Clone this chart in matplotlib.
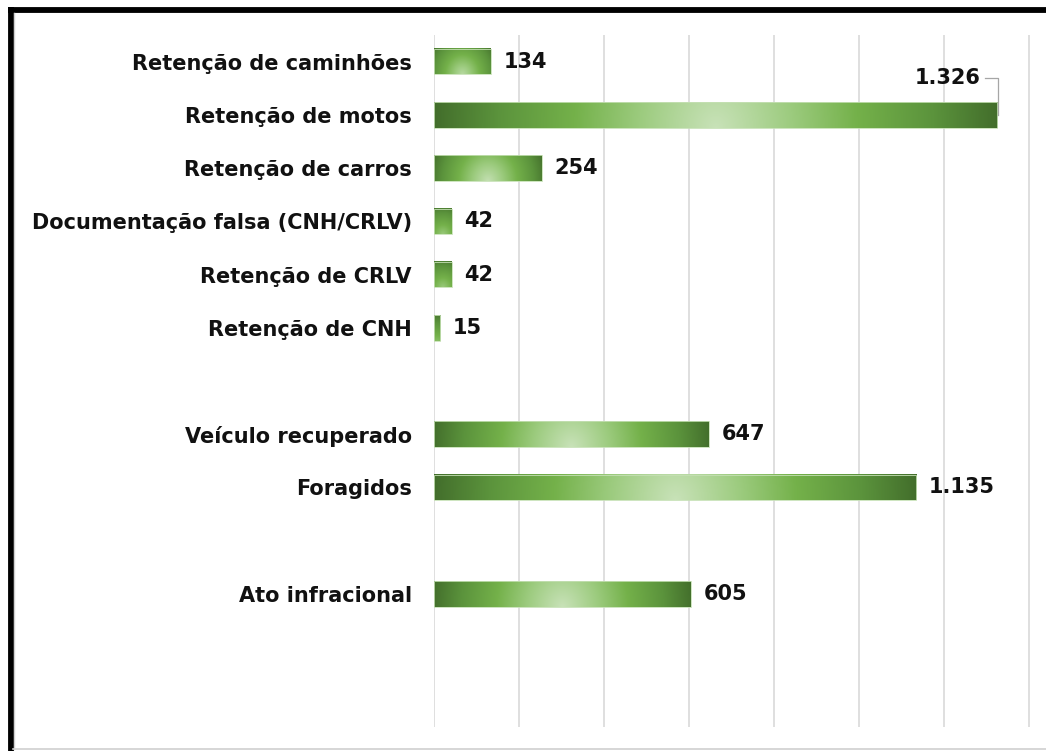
import numpy as np
import matplotlib
matplotlib.use("Agg")
import matplotlib.pyplot as plt
from matplotlib.colors import LinearSegmentedColormap
from matplotlib.lines import Line2D

categories = [
    "Retenção de caminhões",
    "Retenção de motos",
    "Retenção de carros",
    "Documentação falsa (CNH/CRLV)",
    "Retenção de CRLV",
    "Retenção de CNH",
    "",
    "Veículo recuperado",
    "Foragidos",
    "",
    "Ato infracional",
    "",
    "",
]
values = [134, 1326, 254, 42, 42, 15, None, 647, 1135, None, 605, None, None]
value_labels = ["134", "1.326", "254", "42", "42", "15", "", "647", "1.135", "", "605", "", ""]

plt.rcParams['font.family'] = ['DejaVu Sans']
FS = 15

fig = plt.figure(figsize=(10.46, 7.51), dpi=100)
W, H = 1046, 751
ax = fig.add_axes([434 / W, 1 - 727 / H, 1 - 434 / W, (727 - 35) / H])

n = len(categories)
xmax = 1441
ax.set_xlim(0, xmax)
ax.set_ylim(n - 0.5, -0.5)

cmap = LinearSegmentedColormap.from_list(
    "grn", [(0.0, "#c8e2b8"), (0.27, "#9ccb7e"), (0.5, "#74b14a"),
            (0.77, "#5b933c"), (1.0, "#426d2b")])

ax_w_px = (1 - 434 / W) * W
ax_h_px = (727 - 35)
px_per_x = ax_w_px / xmax
px_per_y = ax_h_px / n

bh = 0.48
for i, v in enumerate(values):
    if v is None:
        continue
    w_px = v * px_per_x
    h_px = bh * px_per_y
    nx, ny = max(int(w_px), 2), max(int(h_px), 2)
    xs = (np.arange(nx) + 0.5) - nx / 2.0
    ys = (np.arange(ny) + 0.5)
    X, Y = np.meshgrid(xs, ys)
    Yb = ny - Y
    Rmax = np.hypot(w_px / 2.0, h_px)
    R = np.clip(np.hypot(X, Yb * 0.9) / Rmax, 0, 1)
    floor = 0.45 * np.exp(-w_px / 40.0)
    R = floor + (1 - floor) * R
    img = cmap(R)
    ax.imshow(img, extent=[0, v, i + bh / 2, i - bh / 2], aspect='auto',
              interpolation='bilinear', zorder=2, origin='upper')
    ax.add_patch(plt.Rectangle((0, i - bh / 2), v, bh, fill=False,
                               edgecolor="#c5e0b4", linewidth=0.6, zorder=3))
    if i == 1:
        tx = v - 40
        ty = i - 0.70
        ax.text(tx, ty, value_labels[i], ha='right', va='center', fontsize=FS,
                fontweight='bold', color='#111111', zorder=4)
        ax.plot([tx + 12, v + 2, v + 2], [ty, ty, i], color='#a6a6a6', lw=0.9,
                zorder=4, clip_on=False)
    else:
        ax.text(v + 30, i, value_labels[i], ha='left', va='center', fontsize=FS,
                fontweight='bold', color='#111111', zorder=4)

ax.set_xticks(np.arange(0, 1401, 200))
ax.set_xticklabels([])
ax.tick_params(axis='x', length=0)
ax.grid(axis='x', color='#d9d9d9', linewidth=1.2, zorder=0)
ax.set_axisbelow(True)

ax.set_yticks(range(n))
ax.set_yticklabels(categories, fontsize=FS, fontweight='bold', color='#111111')
ax.tick_params(axis='y', length=0, pad=16)
for s in ax.spines.values():
    s.set_visible(False)

# frame around the chart
fig.add_artist(Line2D([10.5 / W, 10.5 / W], [0, 1 - 7 / H], transform=fig.transFigure,
                      color='black', lw=4.2, solid_capstyle='butt'))
fig.add_artist(Line2D([8 / W, 1], [1 - 10 / H, 1 - 10 / H], transform=fig.transFigure,
                      color='black', lw=4.2, solid_capstyle='butt'))
fig.add_artist(Line2D([13 / W, 1], [1 - 749 / H, 1 - 749 / H], transform=fig.transFigure,
                      color='#d0d0d0', lw=1.2))
fig.add_artist(Line2D([14 / W, 14 / W], [1 - 749 / H, 1 - 13 / H], transform=fig.transFigure,
                      color='#d0d0d0', lw=1.0))

fig.savefig("out.png", dpi=100)
